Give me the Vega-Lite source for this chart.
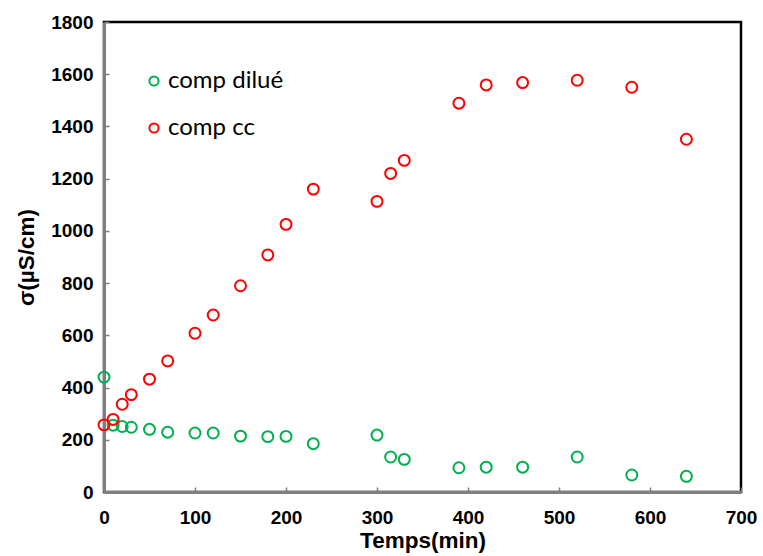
{
  "$schema": "https://vega.github.io/schema/vega-lite/v6.json",
  "autosize": {"type": "none"},
  "padding": {"left": 104, "top": 22, "right": 22, "bottom": 64},
  "width": 637,
  "height": 470,
  "background": "white",
  "config": {
    "view": {"stroke": "#000000", "strokeWidth": 2.5},
    "axis": {
      "domainColor": "#7f7f7f",
      "domainWidth": 3,
      "tickColor": "#7f7f7f",
      "tickWidth": 1.5,
      "tickSize": -5,
      "grid": false,
      "labelFlush": false,
      "labelFont": "Liberation Sans",
      "labelFontWeight": "bold",
      "labelFontSize": 19,
      "labelColor": "black",
      "titleFont": "Liberation Sans",
      "titleFontWeight": "bold",
      "titleFontSize": 22.5,
      "titleColor": "black",
      "format": "d"
    }
  },
  "data": {
    "values": [
      {"t": 0, "s": 440, "serie": "comp dilué"},
      {"t": 10, "s": 256, "serie": "comp dilué"},
      {"t": 20, "s": 251, "serie": "comp dilué"},
      {"t": 30, "s": 248, "serie": "comp dilué"},
      {"t": 50, "s": 240, "serie": "comp dilué"},
      {"t": 70, "s": 229, "serie": "comp dilué"},
      {"t": 100, "s": 226, "serie": "comp dilué"},
      {"t": 120, "s": 226, "serie": "comp dilué"},
      {"t": 150, "s": 214, "serie": "comp dilué"},
      {"t": 180, "s": 212, "serie": "comp dilué"},
      {"t": 200, "s": 213, "serie": "comp dilué"},
      {"t": 230, "s": 185, "serie": "comp dilué"},
      {"t": 300, "s": 218, "serie": "comp dilué"},
      {"t": 315, "s": 134, "serie": "comp dilué"},
      {"t": 330, "s": 125, "serie": "comp dilué"},
      {"t": 390, "s": 93, "serie": "comp dilué"},
      {"t": 420, "s": 95, "serie": "comp dilué"},
      {"t": 460, "s": 95, "serie": "comp dilué"},
      {"t": 520, "s": 134, "serie": "comp dilué"},
      {"t": 580, "s": 65, "serie": "comp dilué"},
      {"t": 640, "s": 60, "serie": "comp dilué"},
      {"t": 0, "s": 257, "serie": "comp cc"},
      {"t": 10, "s": 278, "serie": "comp cc"},
      {"t": 20, "s": 336, "serie": "comp cc"},
      {"t": 30, "s": 373, "serie": "comp cc"},
      {"t": 50, "s": 432, "serie": "comp cc"},
      {"t": 70, "s": 502, "serie": "comp cc"},
      {"t": 100, "s": 608, "serie": "comp cc"},
      {"t": 120, "s": 678, "serie": "comp cc"},
      {"t": 150, "s": 790, "serie": "comp cc"},
      {"t": 180, "s": 908, "serie": "comp cc"},
      {"t": 200, "s": 1025, "serie": "comp cc"},
      {"t": 230, "s": 1160, "serie": "comp cc"},
      {"t": 300, "s": 1113, "serie": "comp cc"},
      {"t": 315, "s": 1220, "serie": "comp cc"},
      {"t": 330, "s": 1270, "serie": "comp cc"},
      {"t": 390, "s": 1489, "serie": "comp cc"},
      {"t": 420, "s": 1559, "serie": "comp cc"},
      {"t": 460, "s": 1568, "serie": "comp cc"},
      {"t": 520, "s": 1577, "serie": "comp cc"},
      {"t": 580, "s": 1550, "serie": "comp cc"},
      {"t": 640, "s": 1351, "serie": "comp cc"}
    ]
  },
  "mark": {"type": "point", "shape": "circle", "filled": false, "strokeWidth": 2, "size": 120, "opacity": 1, "clip": false},
  "encoding": {
    "x": {
      "field": "t", "type": "quantitative",
      "scale": {"domain": [0, 700], "nice": false, "zero": true},
      "axis": {"title": "Temps(min)", "values": [0,100,200,300,400,500,600,700], "labelPadding": 21, "titlePadding": 2}
    },
    "y": {
      "field": "s", "type": "quantitative",
      "scale": {"domain": [0, 1800], "nice": false},
      "axis": {"title": "σ(µS/cm)", "values": [0,200,400,600,800,1000,1200,1400,1600,1800], "labelPadding": 16, "titlePadding": 12}
    },
    "color": {
      "field": "serie", "type": "nominal",
      "scale": {"domain": ["comp dilué", "comp cc"], "range": ["#00B050", "#FF0000"]},
      "legend": {
        "title": null,
        "orient": "none",
        "legendX": 38,
        "legendY": 47,
        "symbolType": "circle",
        "symbolSize": 85,
        "symbolStrokeWidth": 2,
        "symbolFillColor": "transparent",
        "symbolOpacity": 1,
        "labelFont": "Lato",
        "labelFontSize": 24,
        "labelColor": "black",
        "labelOffset": 2,
        "rowPadding": 23
      }
    }
  }
}
